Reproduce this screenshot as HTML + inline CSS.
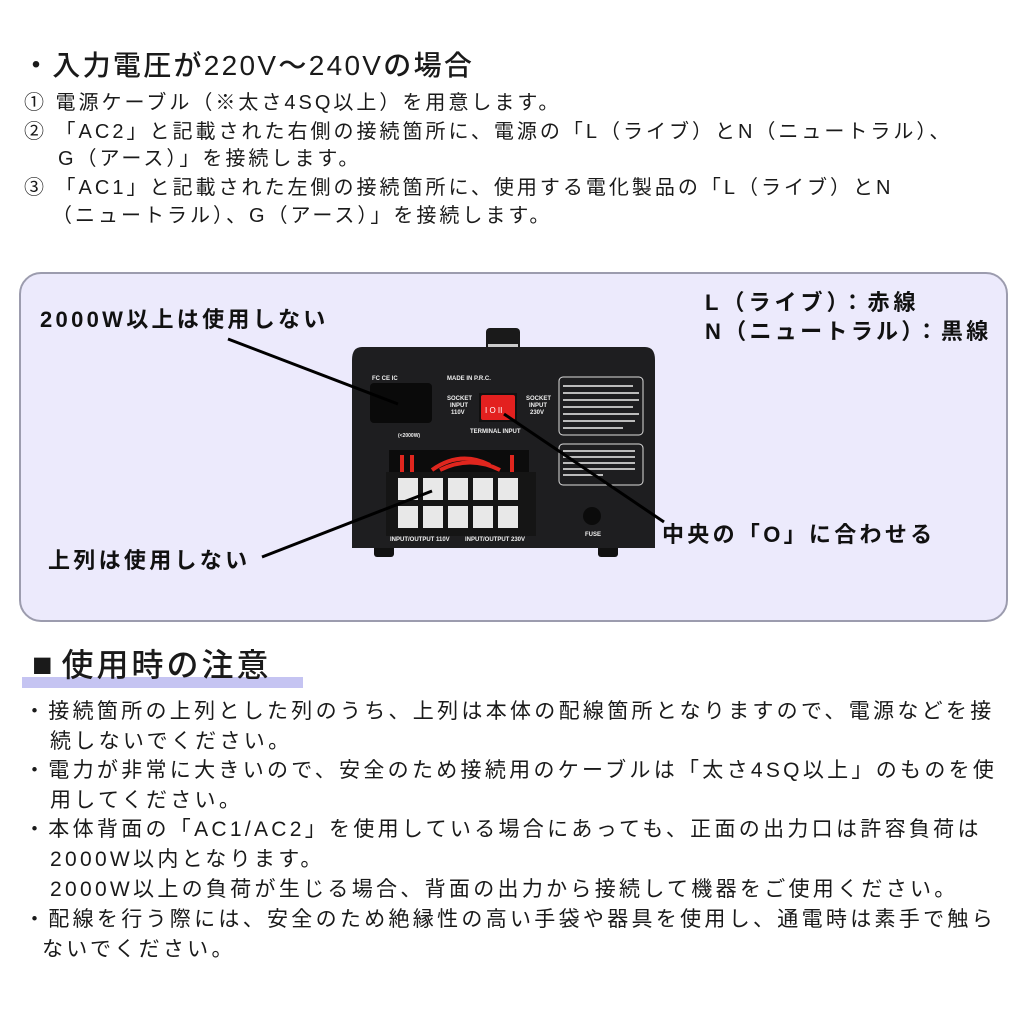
<!DOCTYPE html>
<html><head><meta charset="utf-8"><style>
body{margin:0;width:1024px;height:1024px;background:#fff;position:relative;overflow:hidden;font-family:"Liberation Sans","Noto Sans CJK JP",sans-serif;color:#1a1a1a}
.t{position:absolute;white-space:nowrap;line-height:1}
.s{font-size:20px;letter-spacing:3px}
.b{font-size:21px;letter-spacing:3.3px}
.k{font-weight:bold;font-size:22px;color:#111;letter-spacing:3.3px}
</style></head><body>
<div class="t" style="left:22px;top:52px;font-size:28px;font-weight:500;letter-spacing:2.3px">・入力電圧が220V～240Vの場合</div>
<div class="t s" style="left:24px;top:93px">① 電源ケーブル（※太さ4SQ以上）を用意します。</div>
<div class="t s" style="left:24px;top:122px">② 「AC2」と記載された右側の接続箇所に、電源の「L（ライブ）とN（ニュートラル）、</div>
<div class="t s" style="left:58px;top:149px">G（アース）」を接続します。</div>
<div class="t s" style="left:24px;top:178px">③ 「AC1」と記載された左側の接続箇所に、使用する電化製品の「L（ライブ）とN</div>
<div class="t s" style="left:52px;top:206px">（ニュートラル）、G（アース）」を接続します。</div>

<div style="position:absolute;left:19px;top:272px;width:985px;height:346px;border:2px solid #9c9cae;border-radius:22px;background:#eceafc"></div>

<svg style="position:absolute;left:0;top:0" width="1024" height="1024">
<rect x="486" y="328" width="34" height="30" rx="4" fill="#1a1a1a"/>
<rect x="488" y="344" width="30" height="10" fill="#ccc"/>
<rect x="374" y="545" width="20" height="12" rx="3" fill="#111"/>
<rect x="598" y="545" width="20" height="12" rx="3" fill="#111"/>
<path d="M362 347 H645 Q655 347 655 360 V548 H352 V360 Q352 347 362 347Z" fill="#1e1e20"/>
<rect x="370" y="383" width="62" height="40" rx="4" fill="#0a0a0a"/>
<rect x="479" y="393" width="38" height="29" fill="#111"/>
<rect x="481" y="395" width="34" height="25" rx="2" fill="#e3201f"/>
<text x="485" y="413" font-size="8" fill="#fff" font-family="Liberation Sans">I O II</text>
<rect x="559" y="377" width="84" height="58" rx="4" fill="none" stroke="#ddd" stroke-width="1"/>
<rect x="559" y="444" width="84" height="41" rx="4" fill="none" stroke="#ddd" stroke-width="1"/>
<g fill="#bbb"><rect x="563" y="385" width="70" height="2"/><rect x="563" y="392" width="76" height="2"/><rect x="563" y="399" width="76" height="2"/><rect x="563" y="406" width="70" height="2"/><rect x="563" y="413" width="76" height="2"/><rect x="563" y="420" width="72" height="2"/><rect x="563" y="427" width="60" height="2"/>
<rect x="563" y="450" width="72" height="2"/><rect x="563" y="456" width="72" height="2"/><rect x="563" y="462" width="72" height="2"/><rect x="563" y="468" width="72" height="2"/><rect x="563" y="474" width="40" height="2"/></g>
<g font-family="Liberation Sans" font-weight="bold" fill="#eee" font-size="6">
<text x="372" y="380">FC CE IC</text><text x="447" y="380">MADE IN P.R.C.</text>
<text x="447" y="400">SOCKET</text><text x="450" y="407">INPUT</text><text x="451" y="414">110V</text>
<text x="526" y="400">SOCKET</text><text x="529" y="407">INPUT</text><text x="530" y="414">230V</text>
<text x="470" y="433">TERMINAL INPUT</text><text x="398" y="437" font-size="5">(&lt;2000W)</text>
<text x="390" y="541">INPUT/OUTPUT 110V</text><text x="465" y="541">INPUT/OUTPUT 230V</text>
<text x="585" y="536">FUSE</text></g>
<rect x="389" y="450" width="140" height="25" fill="#0c0c0c"/>
<g stroke="#e0261e" stroke-width="4" fill="none"><path d="M402 475 V455"/><path d="M412 475 V455"/><path d="M440 470 Q470 455 500 470"/><path d="M512 475 V455"/><path d="M432 470 Q460 450 490 465"/></g>
<rect x="386" y="472" width="150" height="64" fill="#151515"/>
<g fill="#e8e8e8">
<rect x="398" y="478" width="20" height="22"/><rect x="423" y="478" width="20" height="22"/><rect x="448" y="478" width="20" height="22"/><rect x="473" y="478" width="20" height="22"/><rect x="498" y="478" width="20" height="22"/>
<rect x="398" y="506" width="20" height="22"/><rect x="423" y="506" width="20" height="22"/><rect x="448" y="506" width="20" height="22"/><rect x="473" y="506" width="20" height="22"/><rect x="498" y="506" width="20" height="22"/></g>
<circle cx="592" cy="516" r="9" fill="#0b0b0b"/>
<g stroke="#000" stroke-width="3">
<line x1="228" y1="339" x2="398" y2="404"/>
<line x1="262" y1="557" x2="432" y2="491"/>
<line x1="504" y1="414" x2="664" y2="522"/>
</g>
</svg>

<div class="t k" style="left:40px;top:309px">2000W以上は使用しない</div>
<div class="t k" style="left:48px;top:550px">上列は使用しない</div>
<div class="t k" style="left:662px;top:524px">中央の「O」に合わせる</div>
<div class="t k" style="left:705px;top:292px;letter-spacing:4px">L（ライブ）：赤線</div>
<div class="t k" style="left:705px;top:321px">N（ニュートラル）：黒線</div>

<div style="position:absolute;left:22px;top:677px;width:281px;height:11px;background:#c5c4f2"></div>
<div class="t" style="left:32px;top:648px;font-size:32px;font-weight:500"><span style="font-size:34px">■</span> <span style="letter-spacing:3px">使用時の注意</span></div>
<div class="t b" style="left:24px;top:701px">・接続箇所の上列とした列のうち、上列は本体の配線箇所となりますので、電源などを接</div>
<div class="t b" style="left:50px;top:731px">続しないでください。</div>
<div class="t b" style="left:24px;top:760px">・電力が非常に大きいので、安全のため接続用のケーブルは「太さ4SQ以上」のものを使</div>
<div class="t b" style="left:50px;top:790px">用してください。</div>
<div class="t b" style="left:24px;top:819px">・本体背面の「AC1/AC2」を使用している場合にあっても、正面の出力口は許容負荷は</div>
<div class="t b" style="left:50px;top:849px">2000W以内となります。</div>
<div class="t b" style="left:50px;top:879px">2000W以上の負荷が生じる場合、背面の出力から接続して機器をご使用ください。</div>
<div class="t b" style="left:24px;top:909px">・配線を行う際には、安全のため絶縁性の高い手袋や器具を使用し、通電時は素手で触ら</div>
<div class="t b" style="left:42px;top:939px">ないでください。</div>
</body></html>
